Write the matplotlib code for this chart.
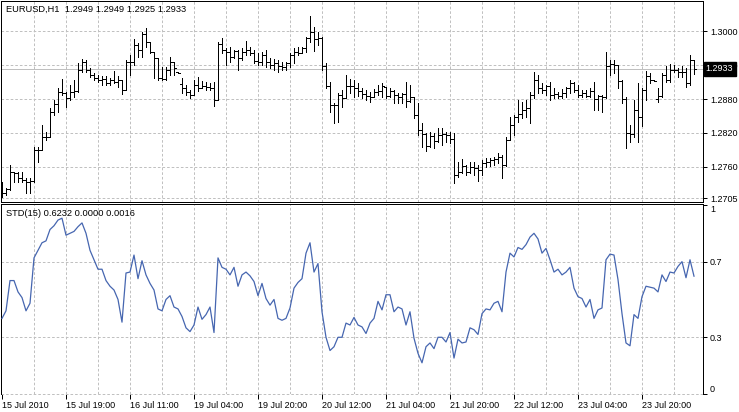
import numpy as np
import matplotlib
matplotlib.use("Agg")
import matplotlib.pyplot as plt
from matplotlib.transforms import blended_transform_factory

plt.rcParams["font.family"] = ["Liberation Sans", "DejaVu Sans"]

# ── data: EURUSD H1, one bar per hour ──
opens = [
    1.2728, 1.2714, 1.2721, 1.2751, 1.2749, 1.2741, 1.2737, 1.2733, 1.2735, 1.2790,
    1.2790, 1.2813, 1.2813, 1.2857, 1.2871, 1.2892, 1.2891, 1.2882, 1.2892, 1.2894,
    1.2931, 1.2945, 1.2931, 1.2922, 1.2917, 1.2914, 1.2915, 1.2908, 1.2914, 1.2910,
    1.2914, 1.2896, 1.2945, 1.2945, 1.2975, 1.2966, 1.2995, 1.2981, 1.2963, 1.2952,
    1.2917, 1.2915, 1.2931, 1.2945, 1.2928, 1.2906, 1.2899, 1.2892, 1.2887, 1.2905,
    1.2899, 1.2903, 1.2901, 1.2899, 1.2878, 1.2977, 1.2966, 1.2963, 1.2954, 1.2965,
    1.2952, 1.2963, 1.2966, 1.2961, 1.2947, 1.2945, 1.2958, 1.2945, 1.2940, 1.2944,
    1.2938, 1.2936, 1.2944, 1.2958, 1.2963, 1.2961, 1.2970, 1.2988, 1.2998, 1.2986,
    1.2988, 1.2938, 1.2903, 1.2869, 1.2869, 1.2887, 1.2882, 1.2903, 1.2903, 1.2899,
    1.2894, 1.2889, 1.2885, 1.2884, 1.2892, 1.2894, 1.2901, 1.2885, 1.2894, 1.2887,
    1.2884, 1.2889, 1.2876, 1.2884, 1.2852, 1.2825, 1.2818, 1.2797, 1.2815, 1.2806,
    1.2816, 1.2818, 1.2816, 1.2809, 1.2746, 1.2751, 1.2762, 1.2751, 1.2760, 1.2758,
    1.2755, 1.2767, 1.2769, 1.2772, 1.2774, 1.2778, 1.2763, 1.2808, 1.2834, 1.2848,
    1.2853, 1.2861, 1.2864, 1.2887, 1.2914, 1.2899, 1.2896, 1.2903, 1.2887, 1.2889,
    1.2885, 1.2891, 1.2899, 1.2908, 1.2896, 1.2887, 1.2891, 1.2885, 1.2894, 1.2880,
    1.2885, 1.2884, 1.2938, 1.2942, 1.2940, 1.2912, 1.2880, 1.2820, 1.2818, 1.2861,
    1.2848, 1.2896, 1.2921, 1.2914, 1.2880, 1.2885, 1.2922, 1.2914, 1.2931, 1.2931,
    1.2928, 1.2928, 1.2908, 1.2949,
]
highs = [
    1.2733, 1.2723, 1.2763, 1.2751, 1.2751, 1.2751, 1.2741, 1.2741, 1.2795, 1.2795,
    1.2834, 1.2822, 1.2864, 1.2878, 1.2899, 1.2915, 1.2892, 1.2905, 1.2914, 1.2944,
    1.2951, 1.2949, 1.2935, 1.2926, 1.2922, 1.2921, 1.2921, 1.2917, 1.2929, 1.2921,
    1.2914, 1.2949, 1.2958, 1.2986, 1.2979, 1.2998, 1.3005, 1.2981, 1.2963, 1.2952,
    1.2936, 1.2936, 1.2954, 1.2945, 1.2928, 1.2917, 1.2905, 1.2896, 1.2914, 1.2919,
    1.2912, 1.2910, 1.2908, 1.2910, 1.2981, 1.2988, 1.2970, 1.2972, 1.2966, 1.2966,
    1.2970, 1.2982, 1.2972, 1.2966, 1.2961, 1.2963, 1.2966, 1.2952, 1.2951, 1.2949,
    1.2945, 1.2945, 1.2961, 1.2970, 1.2972, 1.2972, 1.2989, 1.3026, 1.3007, 1.2998,
    1.2989, 1.2944, 1.2910, 1.2873, 1.2891, 1.2896, 1.2922, 1.2915, 1.2914, 1.2908,
    1.2899, 1.2896, 1.2892, 1.2898, 1.2905, 1.2908, 1.2901, 1.2899, 1.2896, 1.2891,
    1.2891, 1.2910, 1.2905, 1.2884, 1.2873, 1.2838, 1.2820, 1.2822, 1.2820, 1.2829,
    1.2829, 1.2822, 1.2822, 1.2820, 1.2769, 1.2774, 1.2763, 1.2769, 1.2769, 1.2763,
    1.2772, 1.2776, 1.2776, 1.2778, 1.2785, 1.2781, 1.2813, 1.2848, 1.2852, 1.2878,
    1.2875, 1.2878, 1.2892, 1.2928, 1.2922, 1.2908, 1.2905, 1.2910, 1.2899, 1.2892,
    1.2898, 1.2901, 1.2914, 1.2910, 1.2905, 1.2896, 1.2896, 1.2899, 1.2910, 1.2887,
    1.2887, 1.2963, 1.2949, 1.2949, 1.2940, 1.2914, 1.2884, 1.2834, 1.2878, 1.2908,
    1.2899, 1.2929, 1.2926, 1.2914, 1.2899, 1.2926, 1.2938, 1.2942, 1.2940, 1.2935,
    1.2938, 1.2935, 1.2958, 1.2949,
]
lows = [
    1.2707, 1.2711, 1.2719, 1.2733, 1.2733, 1.2733, 1.2714, 1.2714, 1.2733, 1.2769,
    1.2790, 1.2808, 1.2813, 1.2852, 1.2857, 1.2887, 1.2866, 1.2878, 1.2884, 1.2892,
    1.2928, 1.2928, 1.2919, 1.2914, 1.2910, 1.2905, 1.2905, 1.2905, 1.2908, 1.2901,
    1.2889, 1.2896, 1.2922, 1.2940, 1.2954, 1.2954, 1.2972, 1.2961, 1.2917, 1.2914,
    1.2914, 1.2914, 1.2922, 1.2922, 1.2926, 1.2891, 1.2887, 1.2882, 1.2887, 1.2894,
    1.2899, 1.2896, 1.2896, 1.2868, 1.2878, 1.2961, 1.2940, 1.2945, 1.2952, 1.2931,
    1.2949, 1.2958, 1.2958, 1.2944, 1.2940, 1.2940, 1.2936, 1.2935, 1.2931, 1.2928,
    1.2931, 1.2931, 1.2936, 1.2944, 1.2958, 1.2961, 1.2963, 1.2981, 1.2965, 1.2975,
    1.2931, 1.2899, 1.2857, 1.2838, 1.2839, 1.2866, 1.2882, 1.2891, 1.2884, 1.2885,
    1.2882, 1.2878, 1.2875, 1.2884, 1.2887, 1.2884, 1.2882, 1.2884, 1.2873, 1.2873,
    1.2873, 1.2866, 1.2875, 1.2846, 1.2816, 1.2795, 1.2788, 1.2795, 1.2793, 1.2804,
    1.2799, 1.2804, 1.2802, 1.2732, 1.2742, 1.2749, 1.2746, 1.2749, 1.2746, 1.2735,
    1.2746, 1.2760, 1.2762, 1.2763, 1.2767, 1.2740, 1.2762, 1.2808, 1.2816, 1.2839,
    1.2846, 1.2848, 1.2838, 1.2882, 1.2891, 1.2891, 1.2887, 1.2878, 1.2882, 1.2882,
    1.2882, 1.2884, 1.2891, 1.2892, 1.2884, 1.2884, 1.2884, 1.2884, 1.2861, 1.2861,
    1.2857, 1.2882, 1.2922, 1.2926, 1.2899, 1.2873, 1.2793, 1.2804, 1.2813, 1.2804,
    1.2832, 1.2878, 1.2908, 1.2912, 1.2875, 1.2884, 1.2910, 1.2910, 1.2928, 1.2919,
    1.2919, 1.2901, 1.2905, 1.2925,
]
closes = [
    1.2714, 1.2721, 1.2751, 1.2749, 1.2741, 1.2737, 1.2733, 1.2735, 1.2790, 1.2790,
    1.2813, 1.2813, 1.2857, 1.2871, 1.2892, 1.2891, 1.2882, 1.2892, 1.2894, 1.2931,
    1.2945, 1.2931, 1.2922, 1.2917, 1.2914, 1.2915, 1.2908, 1.2914, 1.2910, 1.2914,
    1.2896, 1.2945, 1.2945, 1.2975, 1.2966, 1.2995, 1.2981, 1.2963, 1.2952, 1.2917,
    1.2915, 1.2931, 1.2945, 1.2935, 1.2926, 1.2899, 1.2892, 1.2887, 1.2905, 1.2899,
    1.2903, 1.2901, 1.2899, 1.2878, 1.2977, 1.2966, 1.2963, 1.2954, 1.2965, 1.2952,
    1.2963, 1.2966, 1.2961, 1.2947, 1.2945, 1.2958, 1.2945, 1.2940, 1.2944, 1.2938,
    1.2936, 1.2944, 1.2958, 1.2963, 1.2961, 1.2970, 1.2988, 1.2998, 1.2986, 1.2988,
    1.2938, 1.2903, 1.2869, 1.2869, 1.2887, 1.2882, 1.2903, 1.2903, 1.2899, 1.2894,
    1.2889, 1.2885, 1.2884, 1.2892, 1.2894, 1.2903, 1.2885, 1.2894, 1.2887, 1.2884,
    1.2889, 1.2876, 1.2884, 1.2852, 1.2825, 1.2818, 1.2797, 1.2815, 1.2806, 1.2816,
    1.2818, 1.2816, 1.2809, 1.2746, 1.2751, 1.2762, 1.2751, 1.2760, 1.2758, 1.2755,
    1.2767, 1.2769, 1.2772, 1.2774, 1.2778, 1.2763, 1.2808, 1.2834, 1.2848, 1.2853,
    1.2861, 1.2864, 1.2887, 1.2914, 1.2899, 1.2896, 1.2903, 1.2887, 1.2889, 1.2885,
    1.2891, 1.2899, 1.2908, 1.2896, 1.2887, 1.2891, 1.2885, 1.2894, 1.2880, 1.2885,
    1.2884, 1.2938, 1.2942, 1.2940, 1.2912, 1.2880, 1.2820, 1.2818, 1.2861, 1.2848,
    1.2896, 1.2921, 1.2914, 1.2912, 1.2885, 1.2922, 1.2914, 1.2931, 1.2931, 1.2928,
    1.2928, 1.2908, 1.2949, 1.2933,
]
std_vals = [
    0.40, 0.44, 0.60, 0.60, 0.54, 0.51, 0.44, 0.48, 0.72, 0.76,
    0.80, 0.81, 0.87, 0.89, 0.92, 0.93, 0.84, 0.85, 0.86, 0.885,
    0.905, 0.85, 0.76, 0.71, 0.66, 0.66, 0.60, 0.57, 0.55, 0.50,
    0.38, 0.64, 0.645, 0.735, 0.61, 0.705, 0.63, 0.585, 0.55, 0.45,
    0.44, 0.50, 0.52, 0.46, 0.45, 0.41, 0.35, 0.33, 0.365, 0.46,
    0.395, 0.42, 0.46, 0.325, 0.72, 0.67, 0.66, 0.63, 0.67, 0.57,
    0.63, 0.645, 0.625, 0.595, 0.52, 0.585, 0.505, 0.47, 0.50, 0.40,
    0.39, 0.40, 0.455, 0.56, 0.59, 0.61, 0.745, 0.80, 0.645, 0.69,
    0.435, 0.30, 0.23, 0.25, 0.30, 0.30, 0.375, 0.365, 0.405, 0.365,
    0.355, 0.32, 0.375, 0.40, 0.49, 0.445, 0.525, 0.525, 0.435, 0.46,
    0.45, 0.365, 0.435, 0.295, 0.215, 0.165, 0.25, 0.27, 0.24, 0.30,
    0.30, 0.275, 0.325, 0.19, 0.29, 0.27, 0.275, 0.35, 0.34, 0.315,
    0.425, 0.45, 0.445, 0.48, 0.49, 0.435, 0.645, 0.745, 0.725, 0.775,
    0.765, 0.79, 0.83, 0.85, 0.82, 0.745, 0.77, 0.71, 0.645, 0.66,
    0.63, 0.645, 0.67, 0.56, 0.515, 0.505, 0.46, 0.50, 0.40, 0.445,
    0.455, 0.71, 0.74, 0.735, 0.605, 0.425, 0.27, 0.255, 0.42, 0.40,
    0.515, 0.57, 0.565, 0.56, 0.54, 0.63, 0.595, 0.645, 0.64, 0.675,
    0.70, 0.615, 0.71, 0.6232,
]

date_labels = ["15 Jul 2010", "15 Jul 19:00", "16 Jul 11:00", "19 Jul 04:00",
               "19 Jul 20:00", "20 Jul 12:00", "21 Jul 04:00", "21 Jul 20:00",
               "22 Jul 12:00", "23 Jul 04:00", "23 Jul 20:00"]
date_bars = [0, 16, 32, 48, 64, 80, 96, 112, 128, 144, 160]

price_ticks = [1.3000, 1.2940, 1.2880, 1.2820, 1.2760, 1.2705]
std_ticks = [1, 0.7, 0.3, 0]
std_tick_labels = ["1", "0.7", "0.3", "0"]
last_price = 1.2933

header_price = "EURUSD,H1  1.2949 1.2949 1.2925 1.2933"
header_std = "STD(15) 0.6232 0.0000 0.0016"

# ── figure layout (pixel based, 739x412) ──
W, H = 739, 412
fig = plt.figure(figsize=(W / 100, H / 100), dpi=100)
ax1 = fig.add_axes([1 / W, 1 - 202 / H, 702 / W, 201 / H])
ax2 = fig.add_axes([1 / W, 1 - 394 / H, 702 / W, 190 / H])

PX = 0.72          # one pixel in points
FS = 6.5
GRID = dict(color="#c0c0c0", lw=PX, linestyle=(0, (2.6, 2.0)), zorder=0)

x = np.arange(len(closes))
grid_x = np.arange(8, 172, 8)

for ax in (ax1, ax2):
    ax.set_xlim(-0.25, 175.25)
    for gx in grid_x:
        ax.axvline(gx, **GRID)
    for sp in ax.spines.values():
        sp.set_linewidth(PX)
        sp.set_color("black")
    ax.yaxis.tick_right()
    ax.tick_params(axis="y", direction="out", length=3, width=PX, pad=2,
                   labelsize=FS, colors="black")

# ── price panel: OHLC bars ──
ax1.set_ylim(1.26982, 1.30530)
for p in price_ticks:
    ax1.axhline(p, **GRID)
ax1.axhline(last_price, color="#c0c0c0", lw=PX, zorder=1)

ax1.vlines(x, lows, highs, color="black", lw=PX, antialiased=False, zorder=3)
ax1.hlines(opens, x - 0.4, x, color="black", lw=PX, antialiased=False, zorder=3)
ax1.hlines(closes, x, x + 0.4, color="black", lw=PX, antialiased=False, zorder=3)

ax1.set_yticks(price_ticks)
ax1.set_yticklabels([f"{p:.4f}" for p in price_ticks])
ax1.set_xticks([])

trans = blended_transform_factory(ax1.transAxes, ax1.transData)
ax1.text(1.004, last_price, f"{last_price:.4f}", transform=trans, ha="left",
         va="center", color="white", fontsize=FS, zorder=10, clip_on=False,
         bbox=dict(boxstyle="square,pad=0.25", fc="black", ec="black"))

ax1.text(5 / 702, 1 - 8 / 201, header_price, transform=ax1.transAxes,
         ha="left", va="center", fontsize=6.7, color="black")

# ── STD panel ──
ax2.set_ylim(0, 1.005)
for v in (0.7, 0.3):
    ax2.axhline(v, **GRID)
ax2.axhline(0, color="#c0c0c0", lw=PX, linestyle=(0, (2.6, 2.0)), clip_on=False)
ax2.spines["bottom"].set_visible(False)

ax2.plot(x, std_vals, color="#4666b0", lw=0.9, zorder=3)

ax2.set_yticks(std_ticks)
ax2.set_yticklabels(std_tick_labels)
labs = ax2.get_yticklabels()
labs[0].set_va("top")
labs[-1].set_va("bottom")

ax2.set_xticks(date_bars)
ax2.set_xticklabels(date_labels, ha="left")
ax2.tick_params(axis="x", direction="out", length=3.5, width=PX, pad=1.5,
                labelsize=FS, colors="black")

ax2.text(5 / 702, 1 - 10 / 190, header_std, transform=ax2.transAxes,
         ha="left", va="center", fontsize=6.7, color="black")

fig.savefig("out.png", dpi=100, facecolor="white")
